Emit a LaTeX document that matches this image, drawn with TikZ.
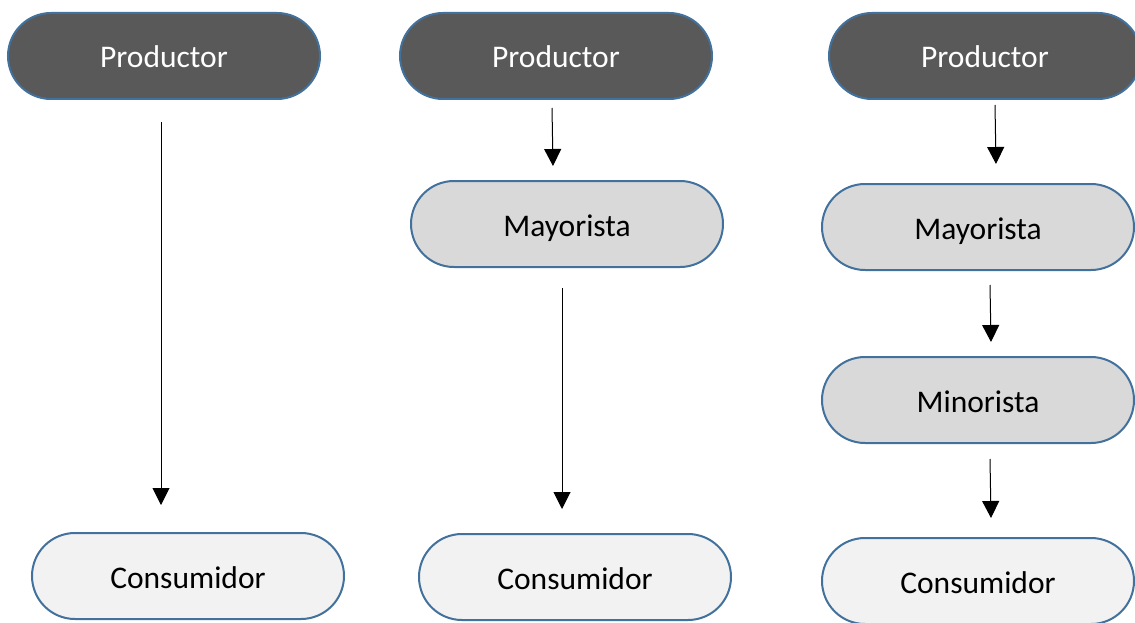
\documentclass[tikz,border=0pt]{standalone}
\usepackage{fontspec}
\setmainfont{Carlito}
\usetikzlibrary{arrows.meta}
\definecolor{pillblue}{HTML}{41719C}
\definecolor{darkfill}{HTML}{595959}
\definecolor{midfill}{HTML}{D9D9D9}
\definecolor{lightfill}{HTML}{F2F2F2}
\begin{document}
\begin{tikzpicture}[x=1pt,y=-1pt,
  pill/.style={draw=pillblue,line width=2pt,rounded corners=43pt,minimum width=312pt,minimum height=86pt,text height=24pt,text depth=0pt,font=\fontsize{31.5}{38}\selectfont},
  prod/.style={pill,fill=darkfill,text=white},
  inter/.style={pill,fill=midfill},
  final/.style={pill,fill=lightfill},
  flow/.style={line width=1pt,-{Triangle[length=17pt,width=17pt]}}]
\useasboundingbox (0,0) rectangle (1135,623);
% canal directo
\node[prod] (prodA) at (164,56) {Productor};
\node[final] (consA) at (188,576) {Consumidor};
\coordinate (a1s) at (161,122);
\coordinate (a1e) at (161,505);
\draw[flow] (a1s) -- (a1e);
% canal corto
\node[prod] (prodB) at (556,56) {Productor};
\node[inter] (mayB) at (567,224) {Mayorista};
\node[final] (consB) at (575,577) {Consumidor};
\coordinate (b1s) at (552,108);
\coordinate (b1e) at (553,166);
\coordinate (b2s) at (562,288);
\coordinate (b2e) at (562,509);
\draw[flow] (b1s) -- (b1e);
\draw[flow] (b2s) -- (b2e);
% canal largo
\node[prod] (prodC) at (985,56) {Productor};
\node[inter] (mayC) at (978,227) {Mayorista};
\node[inter] (minC) at (978,400) {Minorista};
\node[final] (consC) at (978,581) {Consumidor};
\coordinate (c1s) at (995,105);
\coordinate (c1e) at (996,164);
\coordinate (c2s) at (990,285);
\coordinate (c2e) at (991,342);
\coordinate (c3s) at (990,459);
\coordinate (c3e) at (991,518);
\draw[flow] (c1s) -- (c1e);
\draw[flow] (c2s) -- (c2e);
\draw[flow] (c3s) -- (c3e);
\end{tikzpicture}
\end{document}
